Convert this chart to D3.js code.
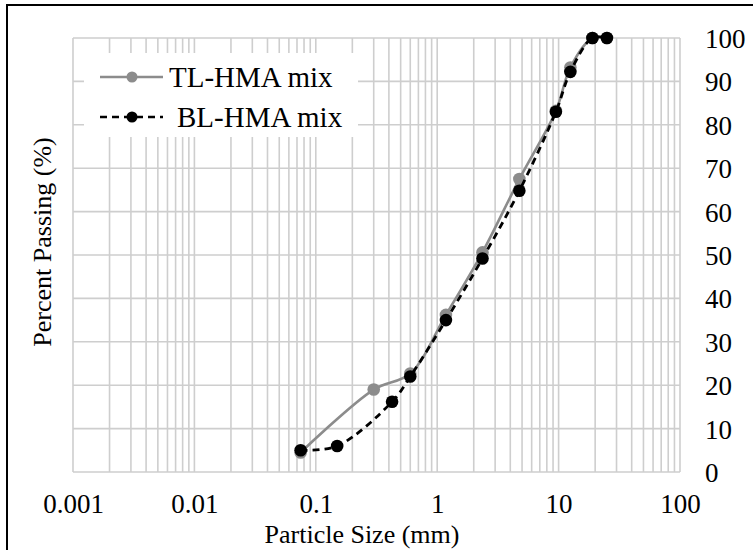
<!DOCTYPE html>
<html>
<head>
<meta charset="utf-8">
<script src="https://cdn.jsdelivr.net/npm/d3@7"></script>
<style>
  body { margin: 0; background: #fff; }
  svg { display: block; }
  svg text { font-family: "Liberation Serif", "Times New Roman", serif; fill: #000; }
</style>
</head>
<body>
<svg id="chart"></svg>
<script>
const W = 753, H = 550;

// sieve sizes (mm) and percent passing
const tlSizes = [0.075, 0.3, 0.6, 1.18, 2.36, 4.75, 9.5, 12.5, 19, 25];
const tlPassing = [4.5, 19, 22.7, 36.2, 50.6, 67.5, 83.2, 93.2, 100, 100];
const blSizes = [0.075, 0.15, 0.425, 0.6, 1.18, 2.36, 4.75, 9.5, 12.5, 19, 25];
const blPassing = [5, 6, 16.2, 22, 35, 49.2, 64.8, 83, 92.2, 100, 100];
const xTicks = [0.001, 0.01, 0.1, 1, 10, 100];
const yTicks = [0, 10, 20, 30, 40, 50, 60, 70, 80, 90, 100];
const seriesNames = ["TL-HMA mix", "BL-HMA mix"];

var svg = d3.select("#chart").attr("width", W).attr("height", H);

var x = d3.scaleLog().domain([0.001, 100]).range([73, 680]);
var y = d3.scaleLinear().domain([0, 100]).range([472, 38]);

// outer frame (only top and left edges are inside the picture)
svg.append("rect")
    .attr("x", 7).attr("y", 5)
    .attr("width", W).attr("height", H)
    .attr("fill", "none").attr("stroke", "#000").attr("stroke-width", 2);

// minor log grid
var minor = [];
for (var e = -3; e < 2; e++) {
    for (var m = 1; m <= 9; m++) minor.push(m * Math.pow(10, e));
}
minor.push(100);

var grid = svg.append("g").attr("stroke", "#cecece").attr("stroke-width", 1.6);
grid.selectAll("line.v")
    .data(minor)
    .enter().append("line")
    .attr("x1", d => x(d)).attr("x2", d => x(d))
    .attr("y1", y(0)).attr("y2", y(100));
grid.selectAll("line.h")
    .data(yTicks)
    .enter().append("line")
    .attr("x1", x(0.001)).attr("x2", x(100))
    .attr("y1", d => y(d)).attr("y2", d => y(d));

// tick labels
var xAxis = d3.axisBottom(x).tickValues(xTicks).tickFormat(d => String(+d.toPrecision(3))).tickSize(0);
svg.append("g")
    .attr("transform", "translate(0," + y(0) + ")")
    .call(xAxis)
    .call(g => g.select(".domain").remove())
    .call(g => g.attr("font-family", null).attr("font-size", 27))
    .selectAll("text")
    .attr("dy", null).attr("y", 41);

var yAxis = d3.axisRight(y).tickValues(yTicks).tickSize(0);
svg.append("g")
    .attr("transform", "translate(" + 705 + ",0)")
    .call(yAxis)
    .call(g => g.select(".domain").remove())
    .call(g => g.attr("font-family", null).attr("font-size", 27))
    .selectAll("text")
    .attr("x", 0).attr("dy", "0.35em");

// axis titles
svg.append("text")
    .attr("x", 362).attr("y", 543)
    .attr("text-anchor", "middle").attr("font-size", 26)
    .text("Particle Size (mm)");
svg.append("text")
    .attr("transform", "translate(51,242) rotate(-90)")
    .attr("text-anchor", "middle").attr("font-size", 26)
    .text("Percent Passing (%)");

// series
var tl = tlSizes.map((s, i) => ({ s: s, p: tlPassing[i] }));
var bl = blSizes.map((s, i) => ({ s: s, p: blPassing[i] }));

var line = d3.line().x(d => x(d.s)).y(d => y(d.p)).curve(d3.curveCatmullRom.alpha(0.5));

svg.append("path").datum(tl)
    .attr("d", line).attr("fill", "none")
    .attr("stroke", "#8c8c8c").attr("stroke-width", 2.6);
svg.selectAll("circle.tl").data(tl).enter().append("circle")
    .attr("cx", d => x(d.s)).attr("cy", d => y(d.p)).attr("r", 6.3)
    .attr("fill", "#8c8c8c");

svg.append("path").datum(bl)
    .attr("d", line).attr("fill", "none")
    .attr("stroke", "#000").attr("stroke-width", 2.8)
    .attr("stroke-dasharray", "7,5");
svg.selectAll("circle.bl").data(bl).enter().append("circle")
    .attr("cx", d => x(d.s)).attr("cy", d => y(d.p)).attr("r", 6.3)
    .attr("fill", "#000");

// legend
var legend = svg.append("g");
legend.append("rect")
    .attr("x", 84).attr("y", 53).attr("width", 274).attr("height", 84)
    .attr("fill", "#fff");
var styles = [
    { color: "#8c8c8c", dash: null, tx: 169, cy: 77 },
    { color: "#000", dash: "7,5", tx: 177, cy: 117 }
];
seriesNames.forEach((name, i) => {
    var st = styles[i];
    legend.append("line")
        .attr("x1", 100).attr("x2", 163).attr("y1", st.cy).attr("y2", st.cy)
        .attr("stroke", st.color).attr("stroke-width", 2.6)
        .attr("stroke-dasharray", st.dash);
    legend.append("circle")
        .attr("cx", 132).attr("cy", st.cy).attr("r", 5.5).attr("fill", st.color);
    legend.append("text")
        .attr("x", st.tx).attr("y", st.cy).attr("dy", "0.35em")
        .attr("font-size", 29).text(name);
});
</script>
</body>
</html>
